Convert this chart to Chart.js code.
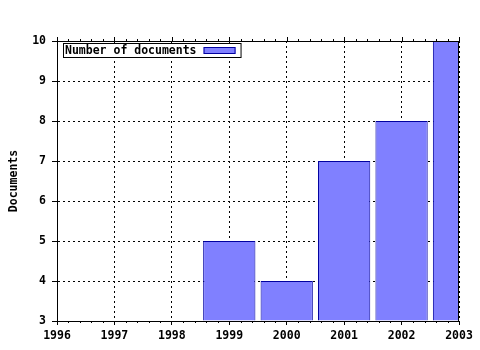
<!DOCTYPE html>
<html>
<head>
<meta charset="utf-8">
<script src="https://cdn.jsdelivr.net/npm/chart.js@4.4.0/dist/chart.umd.min.js"></script>
<style>
  html, body { margin: 0; padding: 0; background: #fff; }
</style>
</head>
<body>
<canvas id="docsChart" width="480" height="350"></canvas>
<script>
// data
const years = [1999, 2000, 2001, 2002, 2003];
const documents = [5, 4, 7, 8, 10];
const yearTicks = [1996, 1997, 1998, 1999, 2000, 2001, 2002, 2003];
const docTicks = [3, 4, 5, 6, 7, 8, 9, 10];
const seriesLabel = 'Number of documents';
const axisTitle = 'Documents';

const FONT = "'DejaVu Sans Mono', 'Liberation Mono', monospace";
const FONT_SIZE = 11.5;
const BAR_FILL = '#8080ff';
const BAR_EDGE = '#0000a0';

Chart.defaults.font.family = FONT;
Chart.defaults.font.size = FONT_SIZE;
Chart.defaults.font.weight = 'bold';
Chart.defaults.color = '#000';

// frame on top/right, minor ticks and the boxed legend (text first, swatch after)
const frameAndLegend = {
    id: 'frameAndLegend',
    afterDatasetsDraw(chart) {
        const { ctx, chartArea: a, scales: { x } } = chart;
        ctx.save();
        ctx.strokeStyle = '#000';
        ctx.lineWidth = 1;
        ctx.beginPath();
        ctx.moveTo(a.left, a.top + 0.5);
        ctx.lineTo(a.right, a.top + 0.5);
        ctx.moveTo(a.right - 0.5, a.top);
        ctx.lineTo(a.right - 0.5, a.bottom);

        x.ticks.forEach((t, i) => {
            const px = Math.round(x.getPixelForValue(t.value)) + 0.5;
            ctx.moveTo(px, a.top - 4);
            ctx.lineTo(px, a.top);
            if (i === x.ticks.length - 1) return;
            for (let k = 1; k < 5; k++) {
                const mx = Math.round(x.getPixelForValue(t.value + k / 5)) + 0.5;
                ctx.moveTo(mx, a.top - 2);
                ctx.lineTo(mx, a.top);
                ctx.moveTo(mx, a.bottom);
                ctx.lineTo(mx, a.bottom + 2);
            }
        });
        ctx.stroke();

        // legend
        const ds = chart.data.datasets[0];
        ctx.font = 'bold ' + FONT_SIZE + 'px ' + FONT;
        ctx.textBaseline = 'middle';
        ctx.textAlign = 'left';
        const bx = a.left + 6, by = a.top + 2, bh = 14;
        const tw = ctx.measureText(ds.label).width;
        const bw = tw + 46;
        ctx.fillStyle = '#fff';
        ctx.fillRect(bx, by, bw, bh);
        ctx.strokeRect(bx + 0.5, by + 0.5, bw, bh);
        ctx.fillStyle = '#000';
        ctx.fillText(ds.label, bx + 2, by + bh / 2 + 1);
        ctx.fillStyle = ds.backgroundColor;
        ctx.fillRect(bx + tw + 9, by + 4, 32, 7);
        ctx.strokeStyle = ds.borderColor;
        ctx.strokeRect(bx + tw + 9.5, by + 4.5, 31, 6);
        ctx.restore();
    }
};

new Chart(document.getElementById('docsChart'), {
    type: 'bar',
    data: {
        datasets: [{
            label: seriesLabel,
            data: years.map((yr, i) => ({ x: yr, y: documents[i] })),
            backgroundColor: BAR_FILL,
            borderColor: BAR_EDGE,
            borderWidth: 1,
            base: docTicks[0],
            categoryPercentage: 1,
            barPercentage: 0.91,
            clip: 0
        }]
    },
    options: {
        responsive: false,
        animation: false,
        layout: { padding: { top: 41, right: 21, left: 0, bottom: 0 } },
        plugins: {
            legend: { display: false },
            tooltip: { enabled: false }
        },
        scales: {
            x: {
                type: 'linear',
                min: yearTicks[0],
                max: yearTicks[yearTicks.length - 1],
                offset: false,
                afterBuildTicks: s => { s.ticks = yearTicks.map(v => ({ value: v })); },
                afterFit: s => { s.height = 29; },
                ticks: {
                    callback: v => String(v),
                    maxRotation: 0,
                    autoSkip: false,
                    padding: 4
                },
                grid: {
                    offset: false,
                    color: '#000',
                    lineWidth: 1,
                    tickLength: 4,
                    tickColor: '#000'
                },
                border: { display: true, color: '#000', width: 1, dash: [2, 3] }
            },
            y: {
                min: docTicks[0],
                max: docTicks[docTicks.length - 1],
                afterBuildTicks: s => { s.ticks = docTicks.map(v => ({ value: v })); },
                afterFit: s => { s.width = 57; },
                ticks: { callback: v => String(v), padding: 6 },
                grid: {
                    color: '#000',
                    lineWidth: 1,
                    tickLength: 5,
                    tickColor: '#000'
                },
                border: { display: true, color: '#000', width: 1, dash: [2, 3] },
                title: {
                    display: true,
                    text: axisTitle,
                    font: { size: FONT_SIZE, weight: 'bold', family: FONT },
                    padding: { top: 7, bottom: 0 }
                }
            }
        }
    },
    plugins: [frameAndLegend]
});
</script>
</body>
</html>
